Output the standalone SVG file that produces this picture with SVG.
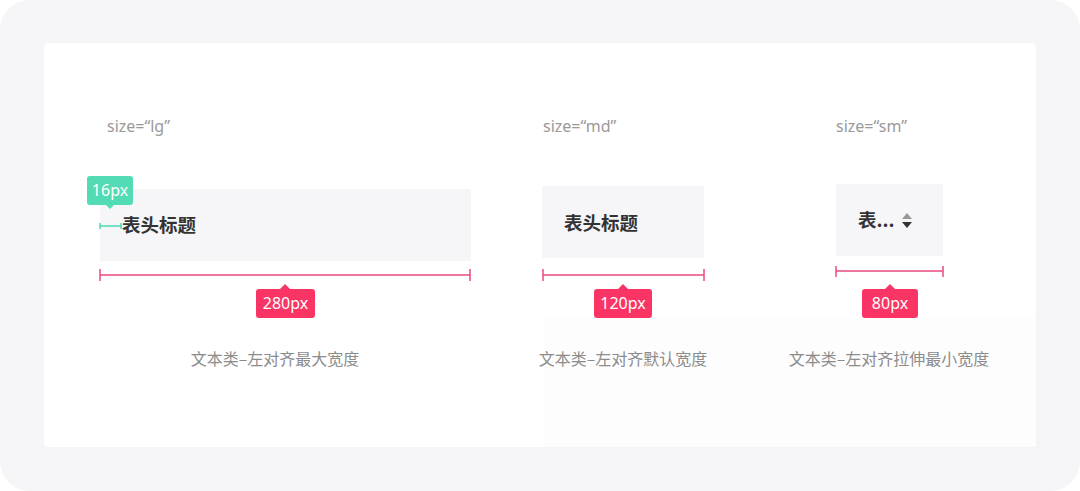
<svg xmlns="http://www.w3.org/2000/svg" width="1080" height="491" viewBox="0 0 1080 491">
<style>
.lbl{font-family:"Noto Sans","Liberation Sans","Noto Sans CJK SC",sans-serif;font-size:16px;fill:#9a9a9a}
.cap{font-family:"Noto Sans CJK SC",sans-serif;font-size:16px;fill:#8c8c8c;text-anchor:middle}
.hd{font-family:"Noto Sans CJK SC",sans-serif;font-size:18.5px;font-weight:bold;fill:#333}
.tag{font-family:"Noto Sans","Liberation Sans",sans-serif;font-size:16px;fill:#fff;text-anchor:middle}
.cell{fill:#f6f6f8}
.pink{stroke:#ea4b7f;stroke-width:1.5;fill:none}
.teal{stroke:#4fd8b4;stroke-width:1.5;fill:none}
.ptag{fill:#fb3466}
.ttag{fill:#52dbb5}
</style>
<rect width="1080" height="491" fill="#ffffff"/>
<rect x="0" y="0" width="1080" height="491" rx="30" fill="#f5f5f7"/>
<rect x="44" y="43" width="992" height="404" rx="4" fill="#ffffff"/>
<rect x="544" y="318" width="492" height="129" fill="#fdfdfe"/>

<g id="lg">
<text class="lbl" x="107" y="132">size=“lg”</text>
<rect class="cell" x="100" y="189" width="371" height="72"/>
<text class="hd" x="122" y="232">表头标题</text>
<rect class="ttag" x="87" y="176" width="46" height="29" rx="3"/>
<path class="ttag" d="M106 205 L110 209 L114 205 Z"/>
<text class="tag" x="110" y="196">16px</text>
<path class="teal" d="M100 226 H121 M100 223 V229 M121 223 V229"/>
<path class="pink" d="M100 275 H470 M100 269 V281 M470 269 V281"/>
<rect class="ptag" x="256" y="289" width="59" height="29" rx="3"/>
<path class="ptag" d="M280 289 L285 284 L290 289 Z"/>
<text class="tag" x="285.500" y="309">280px</text>
<text class="cap" x="275" y="365">文本类–左对齐最大宽度</text>
</g>

<g id="md">
<text class="lbl" x="543" y="132">size=“md”</text>
<rect class="cell" x="542" y="186" width="162" height="72"/>
<text class="hd" x="564" y="230">表头标题</text>
<path class="pink" d="M543 275 H704 M543 269 V281 M704 269 V281"/>
<rect class="ptag" x="594" y="289" width="58" height="29" rx="3"/>
<path class="ptag" d="M618 289 L623 284 L628 289 Z"/>
<text class="tag" x="623" y="309">120px</text>
<text class="cap" x="623" y="365">文本类–左对齐默认宽度</text>
</g>

<g id="sm">
<text class="lbl" x="836" y="132">size=“sm”</text>
<rect class="cell" x="836" y="184" width="107" height="72"/>
<text class="hd" x="858" y="227">表...</text>
<path d="M902 219 L907 213 L912 219 Z" fill="#999"/>
<path d="M902 222 L907 228 L912 222 Z" fill="#333"/>
<path class="pink" d="M836 271 H943 M836 266 V277 M943 266 V277"/>
<rect class="ptag" x="862" y="289" width="56" height="29" rx="3"/>
<path class="ptag" d="M885 289 L890 284 L895 289 Z"/>
<text class="tag" x="890" y="309">80px</text>
<text class="cap" x="889" y="365">文本类–左对齐拉伸最小宽度</text>
</g>
<g id="connectors"/>
</svg>
